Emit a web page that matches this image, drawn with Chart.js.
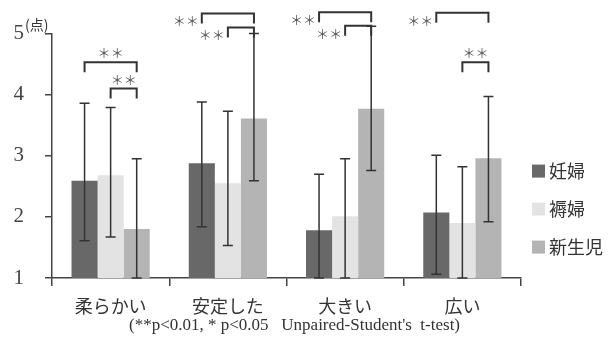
<!DOCTYPE html>
<html>
<head>
<meta charset="utf-8">
<script src="https://cdn.jsdelivr.net/npm/chart.js@4.4.0/dist/chart.umd.min.js"></script>
<style>
  html, body { margin: 0; padding: 0; background: #fff; }
  #wrap { width: 612px; height: 341px; }
</style>
</head>
<body>
<div id="wrap"><canvas id="chart" width="612" height="341"></canvas></div>
<script>
// categories and series
const categories = ['柔らかい', '安定した', '大きい', '広い'];
const seriesNames = ['妊婦', '褥婦', '新生児'];

// mean scores
const pregnantMeans = [2.59, 2.88, 1.78, 2.07];
const puerperalMeans = [2.68, 2.55, 2.01, 1.90];
const newbornMeans = [1.80, 3.61, 3.77, 2.96];

// error bar ends
const pregnantHigh = [3.86, 3.88, 2.70, 3.01];
const pregnantLow = [1.61, 1.84, 1.00, 1.06];
const puerperalHigh = [3.79, 3.73, 2.95, 2.82];
const puerperalLow = [1.67, 1.53, 1.00, 1.00];
const newbornHigh = [2.95, 5.00, 5.12, 3.97];
const newbornLow = [1.00, 2.59, 2.76, 1.92];

const yTicks = [1, 2, 3, 4, 5];
const yUnit = '(点)';
const footnote = "(**p<0.01, * p<0.05   Unpaired-Student's  t-test)";

// significance brackets: category, from series, to series, top value, star placement
const bracketCats = [0, 0, 1, 1, 2, 2, 3, 3];
const bracketFrom = [0, 1, 0, 1, 0, 1, 0, 1];
const bracketTo = [2, 2, 2, 2, 2, 2, 2, 2];
const bracketTop = [4.53, 4.10, 5.33, 5.10, 5.35, 5.13, 5.34, 4.53];
const bracketStars = ['above', 'above', 'left', 'left', 'left', 'left', 'left', 'above'];

const seriesColors = ['#686868', '#e3e3e3', '#b4b4b4'];
const inkColor = '#333';

const errorHigh = [pregnantHigh, puerperalHigh, newbornHigh];
const errorLow = [pregnantLow, puerperalLow, newbornLow];

const extrasPlugin = {
  id: 'extras',
  afterDatasetsDraw(chart) {
    const ctx = chart.ctx;
    const y = chart.scales.y;
    const area = chart.chartArea;
    ctx.save();

    // error bars
    ctx.strokeStyle = inkColor;
    ctx.lineWidth = 1.5;
    chart.data.datasets.forEach((ds, di) => {
      const meta = chart.getDatasetMeta(di);
      meta.data.forEach((bar, i) => {
        const yh = y.getPixelForValue(errorHigh[di][i]);
        const yl = y.getPixelForValue(errorLow[di][i]);
        ctx.beginPath();
        ctx.moveTo(bar.x, yh); ctx.lineTo(bar.x, yl);
        ctx.moveTo(bar.x - 5, yh); ctx.lineTo(bar.x + 5, yh);
        ctx.moveTo(bar.x - 5, yl); ctx.lineTo(bar.x + 5, yl);
        ctx.stroke();
      });
    });

    // brackets
    ctx.lineWidth = 2;
    ctx.fillStyle = '#555';
    ctx.font = '13px "Noto Sans CJK JP"';
    bracketCats.forEach((c, k) => {
      const x1 = chart.getDatasetMeta(bracketFrom[k]).data[c].x;
      const x2 = chart.getDatasetMeta(bracketTo[k]).data[c].x;
      const top = y.getPixelForValue(bracketTop[k]);
      ctx.beginPath();
      ctx.moveTo(x1, top + 10); ctx.lineTo(x1, top); ctx.lineTo(x2, top); ctx.lineTo(x2, top + 10);
      ctx.stroke();
      ctx.textBaseline = 'middle';
      if (bracketStars[k] === 'above') {
        ctx.textAlign = 'center';
        ctx.fillText('＊＊', (x1 + x2) / 2, top - 9);
      } else {
        ctx.textAlign = 'right';
        ctx.fillText('＊＊', x1 - 3, top + 8);
      }
    });

    // unit label next to the top tick
    ctx.fillStyle = inkColor;
    ctx.font = '14px "Noto Sans CJK JP"';
    ctx.textAlign = 'left';
    ctx.textBaseline = 'middle';
    ctx.fillText(yUnit, area.left - 27, y.getPixelForValue(5) - 9);

    // legend
    ctx.font = '18px "Noto Sans CJK JP"';
    chart.data.datasets.forEach((ds, di) => {
      const cy = area.top + 137 + di * 38;
      ctx.fillStyle = ds.backgroundColor;
      ctx.fillRect(area.right + 11, cy - 6, 13, 13);
      ctx.fillStyle = inkColor;
      ctx.fillText(ds.label, area.right + 28, cy + 1);
    });

    // footnote under the category labels
    ctx.font = '17px "Liberation Serif"';
    ctx.textAlign = 'center';
    ctx.fillText(footnote, (area.left + area.right) / 2 + 8, area.bottom + 48);
    ctx.restore();
  }
};

new Chart(document.getElementById('chart'), {
  type: 'bar',
  data: {
    labels: categories,
    datasets: [
      { label: seriesNames[0], data: pregnantMeans, backgroundColor: seriesColors[0] },
      { label: seriesNames[1], data: puerperalMeans, backgroundColor: seriesColors[1] },
      { label: seriesNames[2], data: newbornMeans, backgroundColor: seriesColors[2] }
    ]
  },
  options: {
    responsive: false,
    animation: false,
    devicePixelRatio: 1,
    categoryPercentage: 0.667,
    barPercentage: 1.0,
    layout: { padding: { top: 27, right: 91, left: 0, bottom: 24 } },
    plugins: {
      legend: { display: false },
      tooltip: { enabled: false }
    },
    scales: {
      x: {
        afterFit: s => { s.height = 39; },
        border: { color: '#444', width: 1.5 },
        grid: { drawOnChartArea: false, tickLength: 8, color: '#444', lineWidth: 1.5 },
        ticks: { color: inkColor, padding: 9, font: { family: '"Noto Sans CJK JP"', size: 18 } }
      },
      y: {
        min: 1,
        max: 5,
        afterFit: s => { s.width = 52; },
        afterBuildTicks: s => { s.ticks = yTicks.map(v => ({ value: v })); },
        border: { color: '#444', width: 1.5 },
        grid: { drawOnChartArea: false, tickLength: 7, color: '#444', lineWidth: 1.5 },
        ticks: { color: '#444', padding: 21, font: { family: '"Liberation Serif"', size: 21 } }
      }
    }
  },
  plugins: [extrasPlugin]
});
</script>
</body>
</html>
